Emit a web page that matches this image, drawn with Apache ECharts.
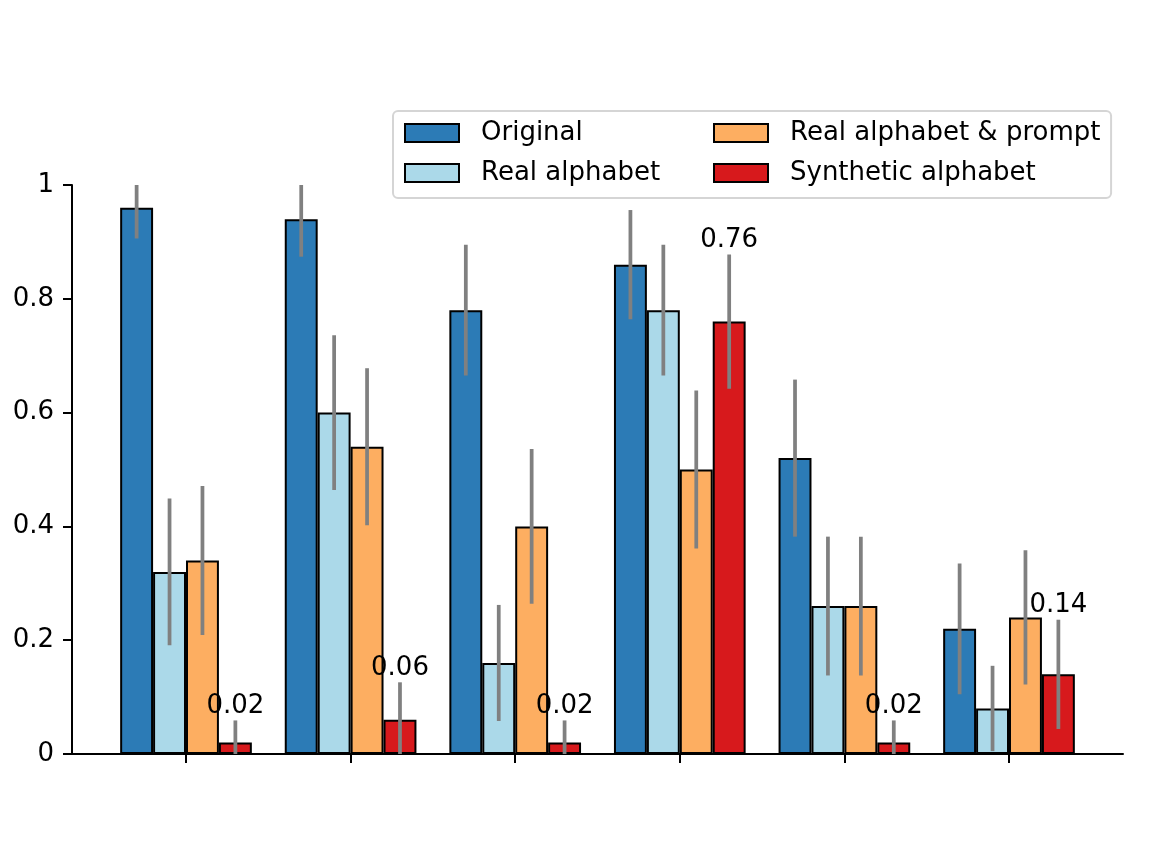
<!DOCTYPE html>
<html><head><meta charset="utf-8">
<script src="https://cdn.jsdelivr.net/npm/echarts@6/dist/echarts.min.js"></script>
<style>html,body{margin:0;padding:0;background:#fff}#chart{width:1154px;height:866px}</style>
</head><body><div id="chart"></div>
<script>
// ---- data ----
const categories = ['1', '2', '3', '4', '5', '6'];
const seriesNames = ['Original', 'Real alphabet', 'Real alphabet & prompt', 'Synthetic alphabet'];
const original           = [0.96, 0.94, 0.78, 0.86, 0.52, 0.22];
const realAlphabet       = [0.32, 0.60, 0.16, 0.78, 0.26, 0.08];
const realAlphabetPrompt = [0.34, 0.54, 0.40, 0.50, 0.26, 0.24];
const synthetic          = [0.02, 0.06, 0.02, 0.76, 0.02, 0.14];
// error bar half-widths
const originalErr        = [0.054, 0.066, 0.115, 0.096, 0.138, 0.115];
const realAlphabetErr    = [0.129, 0.136, 0.102, 0.115, 0.122, 0.075];
const promptErr          = [0.131, 0.138, 0.136, 0.139, 0.122, 0.118];
const syntheticErr       = [0.039, 0.066, 0.039, 0.118, 0.039, 0.096];
const yMin = 0, yMax = 1, yStep = 0.2;

const FONT = 'DejaVu Sans';
const FS = 26;
const colors = ['#2c7bb6', '#abd9e9', '#fdae61', '#d7191c'];
const values = [original, realAlphabet, realAlphabetPrompt, synthetic];
const errors = [originalErr, realAlphabetErr, promptErr, syntheticErr];

const chart = echarts.init(document.getElementById('chart'), null, {renderer: 'canvas'});

const barSeries = seriesNames.map((name, s) => ({
  name, type: 'bar', xAxisIndex: 1, yAxisIndex: 1,
  data: values[s], barWidth: '20%', barGap: '0%',
  itemStyle: {color: colors[s], borderColor: '#000', borderWidth: 2},
  emphasis: {disabled: true}, z: 2
}));

const errData = [];
values.forEach((arr, s) => arr.forEach((v, i) => errData.push([i, v, errors[s][i], s])));

const errSeries = {
  type: 'custom', xAxisIndex: 1, yAxisIndex: 1, data: errData, silent: true, z: 5,
  encode: {x: 0, y: 1},
  renderItem(params, api) {
    const i = api.value(0), v = api.value(1), e = api.value(2), s = api.value(3);
    const band = api.size([1, 0])[0];
    const cx = api.coord([i, 0])[0] + (s - 1.5) * band * 0.2;
    const hi = Math.min(yMax, v + e), lo = Math.max(yMin, v - e);
    const pHi = api.coord([i, hi])[1], pLo = api.coord([i, lo])[1];
    const children = [{type: 'line', shape: {x1: cx, y1: pHi, x2: cx, y2: pLo},
      style: {stroke: '#808080', lineWidth: 3.75}}];
    if (s === 3) {
      children.push({type: 'text', style: {text: String(v), x: cx, y: pHi - 1,
        align: 'center', verticalAlign: 'bottom', fontSize: FS, fontFamily: FONT, fill: '#000'}});
    }
    return {type: 'group', children};
  }
};

const legendCommon = {
  top: 111, orient: 'vertical', itemGap: 14,
  itemWidth: 54, itemHeight: 18,
  icon: 'rect', selectedMode: false,
  itemStyle: {borderColor: '#000', borderWidth: 2},
  textStyle: {fontSize: FS, fontFamily: FONT, color: '#000', padding: [0, 0, 0, 17]}
};

chart.setOption({
  animation: false,
  backgroundColor: '#fff',
  legend: [
    Object.assign({}, legendCommon, {
      left: 393, padding: [9, 451, 12, 11], z: 4,
      borderColor: '#d5d5d5', borderWidth: 2, borderRadius: 5, backgroundColor: 'rgba(255,255,255,0.8)',
      data: [seriesNames[0], seriesNames[1]]
    }),
    Object.assign({}, legendCommon, {
      left: 713, padding: [9, 0, 12, 0], z: 6,
      data: [seriesNames[2], seriesNames[3]]
    })
  ],
  grid: [
    {left: 72, right: 31, top: 185, bottom: 112},
    {left: 103.7, right: 62.7, top: 185, bottom: 112}
  ],
  xAxis: [
    {gridIndex: 0, type: 'value', min: 0, max: 1,
      axisLine: {show: true, lineStyle: {color: '#000', width: 2}},
      axisTick: {show: false}, axisLabel: {show: false}, splitLine: {show: false}},
    {gridIndex: 1, type: 'category', data: categories,
      axisLine: {show: false},
      axisTick: {show: true, alignWithLabel: true, length: 9, lineStyle: {color: '#000', width: 2}},
      axisLabel: {show: false}, splitLine: {show: false}}
  ],
  yAxis: [
    {gridIndex: 0, type: 'value', min: yMin, max: yMax, interval: yStep,
      axisLine: {show: true, lineStyle: {color: '#000', width: 2}},
      axisTick: {show: true, length: 9, lineStyle: {color: '#000', width: 2}},
      axisLabel: {fontSize: FS, fontFamily: FONT, color: '#000', margin: 18},
      splitLine: {show: false}},
    {gridIndex: 1, type: 'value', min: yMin, max: yMax, show: false, splitLine: {show: false}}
  ],
  series: [...barSeries, errSeries]
});
</script>
</body></html>
